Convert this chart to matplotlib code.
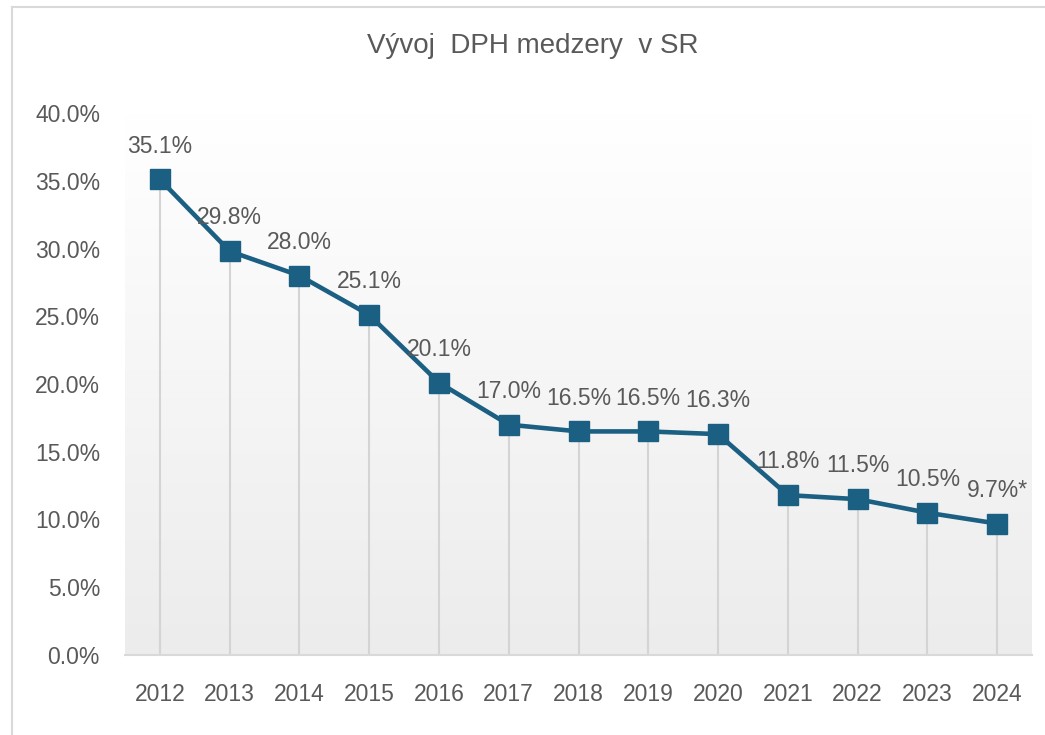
import numpy as np
import matplotlib
matplotlib.use("Agg")
import matplotlib.pyplot as plt
from matplotlib.lines import Line2D
from matplotlib.colors import LinearSegmentedColormap

years = ["2012", "2013", "2014", "2015", "2016", "2017", "2018",
         "2019", "2020", "2021", "2022", "2023", "2024"]
gap = [35.1, 29.8, 28.0, 25.1, 20.1, 17.0, 16.5, 16.5, 16.3, 11.8, 11.5, 10.5, 9.7]
labels = [f"{v:.1f}%" for v in gap]
labels[-1] = labels[-1] + "*"
yticks = [0, 5, 10, 15, 20, 25, 30, 35, 40]

plt.rcParams["font.family"] = ["Liberation Sans Narrow", "Liberation Sans", "DejaVu Sans"]
TXT = "#595959"
BLUE = "#1b5f83"

fig = plt.figure(figsize=(10.45, 7.35), dpi=100)
ax = fig.add_axes([125 / 1045, 1 - 655 / 735, 907 / 1045, 542 / 735])

x = np.arange(len(years))
ax.set_xlim(-0.5, len(years) - 0.5)
ax.set_ylim(0, 40)

# vertical gradient background
cmap = LinearSegmentedColormap.from_list("bg", ["#ececec", "#ffffff"])
grad = np.linspace(0, 1, 256).reshape(-1, 1)
ax.imshow(grad, cmap=cmap, aspect="auto", origin="lower",
          extent=(-0.5, len(years) - 0.5, 0, 40), zorder=0)

ax.vlines(x, 0, gap, color="#d4d4d4", lw=1.5, zorder=1)
ax.plot(x, gap, color=BLUE, lw=3.3, marker="s", ms=14, zorder=3)
for xi, v, lab in zip(x, gap, labels):
    ax.annotate(lab, (xi, v), xytext=(0, 24), textcoords="offset points",
                ha="center", va="center", fontsize=16.5, color=TXT)

ax.set_xticks(x, years)
ax.set_yticks(yticks, [f"{t:.1f}%" for t in yticks])
ax.tick_params(length=0, labelsize=16.5, labelcolor=TXT)
ax.tick_params(axis="x", pad=20)
ax.tick_params(axis="y", pad=18)
for s in ["top", "right", "left"]:
    ax.spines[s].set_visible(False)
ax.spines["bottom"].set_color("#d9d9d9")
ax.spines["bottom"].set_linewidth(1.5)

fig.text(533 / 1045, 1 - 46 / 735, "Vývoj  DPH medzery  v SR", ha="center", va="center",
         fontsize=20, color=TXT)

# outer frame (top and left only, as in screenshot)
fig.add_artist(Line2D([12 / 1045, 1], [1 - 7 / 735, 1 - 7 / 735], color="#d9d9d9", lw=1.5))
fig.add_artist(Line2D([12 / 1045, 12 / 1045], [0, 1 - 7 / 735], color="#d9d9d9", lw=1.5))

fig.savefig("out.png", dpi=100)
